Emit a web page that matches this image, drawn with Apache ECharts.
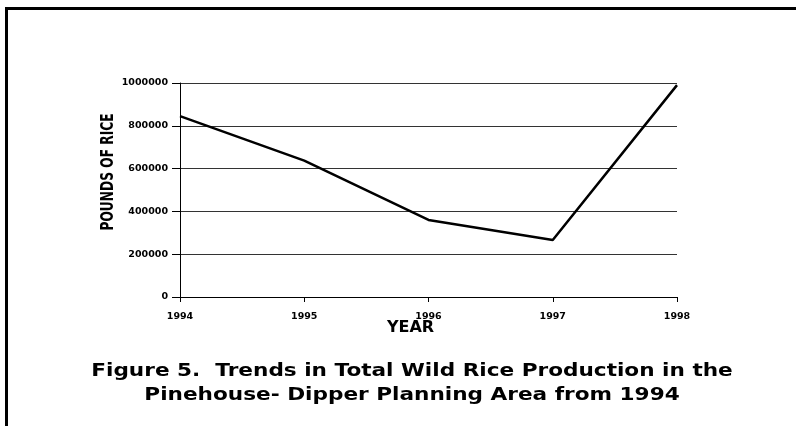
<!DOCTYPE html>
<html>
<head>
<meta charset="utf-8">
<script src="https://cdn.jsdelivr.net/npm/echarts@6/dist/echarts.min.js"></script>
<style>
  html, body { margin: 0; padding: 0; background: #fff; }
  #chart { width: 796px; height: 426px; }
</style>
</head>
<body>
<div id="chart"></div>
<script>
const years = ['1994', '1995', '1996', '1997', '1998'];
const pounds = [845000, 637000, 360000, 266000, 990000];
const yTicks = { min: 0, max: 1000000, interval: 200000 };
const titleLines = ['Figure 5.  Trends in Total Wild Rice Production in the', 'Pinehouse- Dipper Planning Area from 1994'];
const xName = 'YEAR';
const yName = 'POUNDS OF RICE';

const chart = echarts.init(document.getElementById('chart'), null, { renderer: 'canvas' });
const tickFont = { fontFamily: 'DejaVu Sans', fontWeight: 'bold', fontSize: 9.5, color: '#000' };

chart.setOption({
  animation: false,
  backgroundColor: '#fff',
  graphic: [
    {
      type: 'polyline',
      shape: { points: [[6.5, 426], [6.5, 8.5], [796, 8.5]] },
      style: { stroke: '#000', lineWidth: 3, fill: null },
      silent: true
    },
    {
      type: 'text',
      x: 109,
      y: 172,
      rotation: Math.PI / 2,
      scaleX: 0.72,
      style: {
        text: yName,
        x: 0,
        y: 0,
        align: 'center',
        verticalAlign: 'middle',
        fontFamily: 'DejaVu Sans',
        fontWeight: 'bold',
        fontSize: 17,
        fill: '#000'
      }
    },
    {
      type: 'text',
      x: 412,
      y: 383,
      scaleX: 1.2,
      style: {
        text: titleLines.join('\n'),
        x: 0,
        y: 0,
        align: 'center',
        verticalAlign: 'middle',
        lineHeight: 24,
        fontFamily: 'DejaVu Sans',
        fontWeight: 'bold',
        fontSize: 18,
        fill: '#000'
      }
    }
  ],
  grid: { left: 180, right: 119, top: 83, bottom: 129, containLabel: false },
  xAxis: {
    type: 'category',
    data: years,
    boundaryGap: false,
    name: xName,
    nameLocation: 'middle',
    nameGap: 23,
    nameMoveOverlap: false,
    nameTextStyle: { fontFamily: 'DejaVu Sans', fontWeight: 'bold', fontSize: 16, color: '#000', padding: [0, 36, 0, 0] },
    axisLine: { lineStyle: { color: '#000', width: 1 } },
    axisTick: { show: true, length: 5, lineStyle: { color: '#000' } },
    axisLabel: Object.assign({ margin: 15 }, tickFont),
    splitLine: { show: false }
  },
  yAxis: {
    type: 'value',
    min: yTicks.min,
    max: yTicks.max,
    interval: yTicks.interval,
    axisLine: { show: true, lineStyle: { color: '#000', width: 1 } },
    axisTick: { show: true, length: 8, lineStyle: { color: '#000' } },
    axisLabel: Object.assign({ margin: 12, formatter: v => String(v) }, tickFont),
    splitLine: { show: true, lineStyle: { color: '#333', width: 1 } }
  },
  series: [{
    type: 'line',
    data: pounds,
    symbol: 'none',
    lineStyle: { color: '#000', width: 2.5 }
  }]
});
</script>
</body>
</html>
